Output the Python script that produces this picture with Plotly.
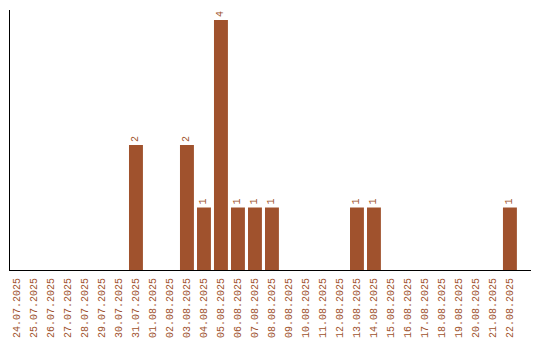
import plotly.graph_objects as go

dates = ["24.07.2025","25.07.2025","26.07.2025","27.07.2025","28.07.2025","29.07.2025",
         "30.07.2025","31.07.2025","01.08.2025","02.08.2025","03.08.2025","04.08.2025",
         "05.08.2025","06.08.2025","07.08.2025","08.08.2025","09.08.2025","10.08.2025",
         "11.08.2025","12.08.2025","13.08.2025","14.08.2025","15.08.2025","16.08.2025",
         "17.08.2025","18.08.2025","19.08.2025","20.08.2025","21.08.2025","22.08.2025"]
counts = [0,0,0,0,0,0,0,2,0,0,2,1,4,1,1,1,0,0,0,0,1,1,0,0,0,0,0,0,0,1]

color = "#A0522D"
labels = [str(c) if c > 0 else "" for c in counts]

fig = go.Figure(go.Bar(
    x=list(range(len(dates))), y=counts,
    marker=dict(color=color, line=dict(width=0)),
    text=labels, textposition="outside", textangle=-90,
    textfont=dict(family="Liberation Mono", size=10, color=color),
    cliponaxis=False,
))

fig.update_layout(
    width=540, height=340,
    margin=dict(l=10, r=9, t=10, b=70),
    plot_bgcolor="white", paper_bgcolor="white",
    bargap=0.18, showlegend=False,
    xaxis=dict(
        tickmode="array", tickvals=list(range(len(dates))), ticktext=dates,
        tickangle=-90, range=[-0.41, 30.24], automargin=False,
        tickfont=dict(family="Liberation Mono", size=10, color=color),
        showline=True, linecolor="black", linewidth=1,
        showgrid=False, zeroline=False, ticks="outside", ticklen=3, tickcolor="rgba(0,0,0,0)",
    ),
    yaxis=dict(
        range=[0, 4.16], showticklabels=False, showgrid=False, zeroline=False,
        showline=True, linecolor="black", linewidth=1, ticks="", automargin=False,
    ),
)

fig.write_html("out.html")
